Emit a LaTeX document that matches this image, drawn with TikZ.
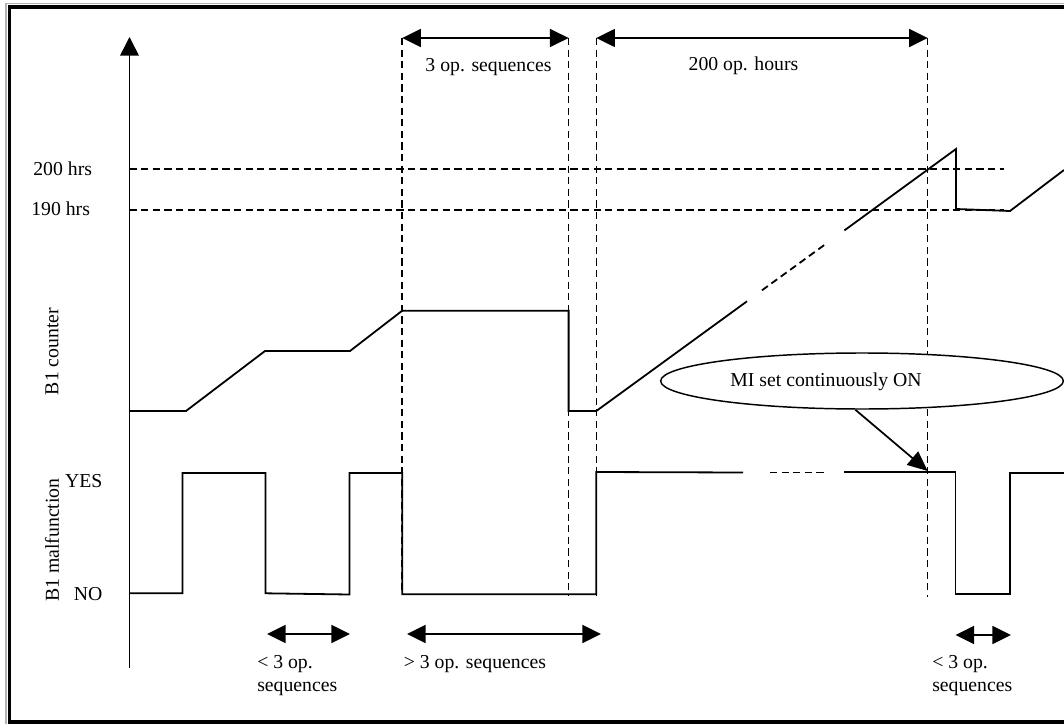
\documentclass[tikz,border=0pt]{standalone}
\usepackage{fontspec}
\setmainfont{Liberation Serif}
\usepackage{tikz}
\usetikzlibrary{arrows.meta,shapes,positioning}
\tikzstyle{signal} = [line width=1.35pt, line join=miter]
\tikzstyle{guide} = [line width=1.1pt, dash pattern=on 5.4pt off 3.3pt]
\tikzstyle{dimarrow} = [line width=1.3pt, {Triangle[length=14pt,width=13.5pt]}-{Triangle[length=14pt,width=13.5pt]}]
\tikzstyle{callout} = [line width=1.3pt, -{Triangle[length=15pt,width=13pt]}]
\tikzstyle{lbl} = [inner sep=0pt, font=\fontsize{14.8}{17.6}\selectfont]

\begin{document}
\begin{tikzpicture}[x=0.75pt, y=-0.75pt]
\useasboundingbox (0,0) rectangle (1064,724);

% Frame
\draw[black!30, line width=0.9pt] (1064,3.6) -- (6,3.6) -- (6,724);
\draw[line width=2.6pt] (1064,7) -- (9.5,7) -- (9.5,722) -- (1064,722);

% Axis
\coordinate (axisbot) at (129.5,668);
\coordinate (axistop) at (129.5,37);
\draw[line width=1.2pt, -{Triangle[length=14pt,width=14pt]}] (axisbot) -- (axistop);

% Levels
\node[lbl, anchor=base east] (h200) at (92.3,175) {200 hrs};
\node[lbl, anchor=base east] (h190) at (90.2,215) {190 hrs};
\node[lbl, anchor=base east] (yes) at (102.6,487) {YES};
\node[lbl, anchor=base east] (no) at (102.6,600.5) {NO};
\node[lbl, rotate=90] (counterlbl) at (52,351.5) {B1 counter};
\node[lbl, rotate=90] (mallbl) at (52,540) {B1 malfunction};

\draw[guide] (axistop |- 0,169) -- (1004,169);
\draw[guide] (axistop |- 0,210) -- (1004,210);

% Time marks
\coordinate (t1) at (402.2,38);
\coordinate (t2) at (568.6,38);
\coordinate (t3) at (596.3,38);
\coordinate (t4) at (927.7,38);
\draw[guide] (t1) -- (402.2,594);
\draw[guide] (t2) -- (568.6,595);
\draw[guide] (t3) -- (596.3,595);
\draw[guide] (t4) -- (927.7,597);

\draw[dimarrow] (t1) -- (t2);
\draw[dimarrow] (t3) -- (t4);
\node[lbl, anchor=base] (seq3) at (488.5,71.5) {3 op. sequences};
\node[lbl, anchor=base] (hours) at (743.5,71) {200 op. hours};

% B1 counter
\draw[signal] (129.5,411) -- (186,411) -- (265,351) -- (350,351) -- (402.2,310.7)
  -- (568.6,310.7) -- (568.6,411) -- (596.3,411) -- (747,301.3);
\draw[signal, dash pattern=on 5.4pt off 3.3pt] (762,290.3) -- (825,244.5);
\draw[signal] (844.4,230.4) -- (956,149) -- (956,209) -- (1010,211) -- (1064,170);

% B1 malfunction
\draw[signal] (129.5,593.3) -- (182.5,593.3) -- (182.5,473) -- (265.5,473) -- (265.5,593.3)
  -- (349.5,594.5) -- (349.5,473) -- (402.2,473) -- (402.2,594.3) -- (596.3,594.3)
  -- (596.3,472) -- (743,472.5);
\draw[signal, dash pattern=on 5.4pt off 3.3pt] (770,472.5) -- (827,472.5);
\draw[signal] (844.4,472) -- (955.5,472) -- (955.5,594.3) -- (1010,594.3) -- (1010,473) -- (1064,473);

% MI
\node[ellipse, draw, line width=1.1pt, fill=white, minimum width=302pt, minimum height=42pt] (mi) at (862,381) {};
\node[lbl, anchor=base] (mitext) at (826,386.5) {MI set continuously ON};
\coordinate (onset) at (927.7,471);
\draw[callout] ([xshift=-5pt]mi.south) -- (onset);

% Durations
\coordinate (a1) at (267,634);
\coordinate (a2) at (350,634);
\coordinate (b1) at (407,634);
\coordinate (b2) at (601,634);
\coordinate (c1) at (955.5,635);
\coordinate (c2) at (1011,635);
\draw[dimarrow] (a1) -- (a2);
\draw[dimarrow] (b1) -- (b2);
\draw[dimarrow] (c1) -- (c2);
\node[lbl, anchor=north west, align=left] (few1) at (257,655) {< 3 op.\\sequences};
\node[lbl, anchor=base west] (many) at (403.6,668) {> 3 op. sequences};
\node[lbl, anchor=north west, align=left] (few2) at (932,655) {< 3 op.\\sequences};
\end{tikzpicture}
\end{document}
